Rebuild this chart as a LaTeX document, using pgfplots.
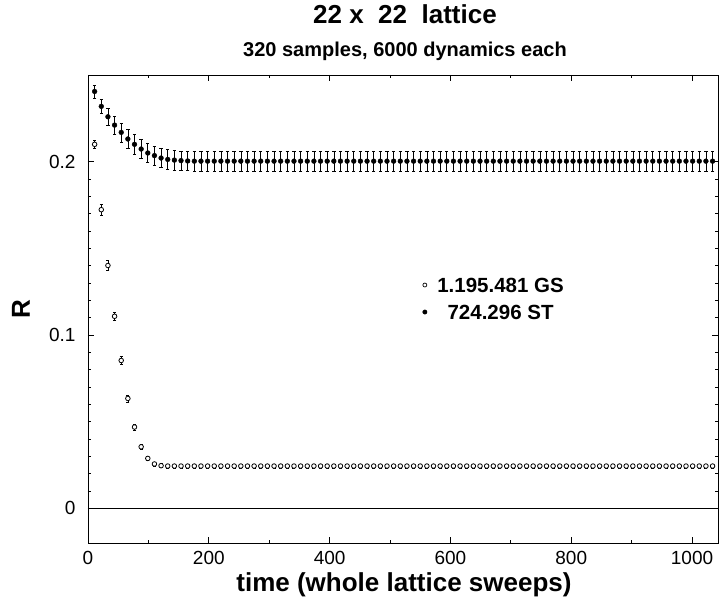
\documentclass[border=0pt]{standalone}
\usepackage{fontspec}
\setmainfont{Liberation Sans}
\usepackage{pgfplots}
\usepackage{pgfplotstable}
\pgfplotsset{compat=1.18}

% ST series (filled circles): time, R, error
\pgfplotstableread{
x y e
11 0.2405 0.0037
22 0.2319 0.0038
33 0.2259 0.0047
44 0.2211 0.0052
55 0.2169 0.0055
66 0.2131 0.0056
77 0.2100 0.0056
88 0.2073 0.0056
99 0.2050 0.0056
110 0.2035 0.0056
121 0.2021 0.0056
132 0.2013 0.0056
143 0.2009 0.0056
154 0.2006 0.0056
165 0.2004 0.0056
176 0.2003 0.0056
187 0.2003 0.0056
198 0.2003 0.0056
209 0.2003 0.0056
220 0.2003 0.0056
231 0.2003 0.0056
242 0.2003 0.0056
253 0.2003 0.0056
264 0.2003 0.0056
275 0.2003 0.0056
286 0.2003 0.0056
297 0.2003 0.0056
308 0.2003 0.0056
319 0.2003 0.0056
330 0.2003 0.0056
341 0.2003 0.0056
352 0.2003 0.0056
363 0.2003 0.0056
374 0.2003 0.0056
385 0.2003 0.0056
396 0.2003 0.0056
407 0.2003 0.0056
418 0.2003 0.0056
429 0.2003 0.0056
440 0.2003 0.0056
451 0.2003 0.0056
462 0.2003 0.0056
473 0.2003 0.0056
484 0.2003 0.0056
495 0.2003 0.0056
506 0.2003 0.0056
517 0.2003 0.0056
528 0.2003 0.0056
539 0.2003 0.0056
550 0.2003 0.0056
561 0.2003 0.0056
572 0.2003 0.0056
583 0.2003 0.0056
594 0.2003 0.0056
605 0.2003 0.0056
616 0.2003 0.0056
627 0.2003 0.0056
638 0.2003 0.0056
649 0.2003 0.0056
660 0.2003 0.0056
671 0.2003 0.0056
682 0.2003 0.0056
693 0.2003 0.0056
704 0.2003 0.0056
715 0.2003 0.0056
726 0.2003 0.0056
737 0.2003 0.0056
748 0.2003 0.0056
759 0.2003 0.0056
770 0.2003 0.0056
781 0.2003 0.0056
792 0.2003 0.0056
803 0.2003 0.0056
814 0.2003 0.0056
825 0.2003 0.0056
836 0.2003 0.0056
847 0.2003 0.0056
858 0.2003 0.0056
869 0.2003 0.0056
880 0.2003 0.0056
891 0.2003 0.0056
902 0.2003 0.0056
913 0.2003 0.0056
924 0.2003 0.0056
935 0.2003 0.0056
946 0.2003 0.0056
957 0.2003 0.0056
968 0.2003 0.0056
979 0.2003 0.0056
990 0.2003 0.0056
1001 0.2003 0.0056
1012 0.2003 0.0056
1023 0.2003 0.0056
1034 0.2003 0.0056
}\stdata

% GS series (open circles): time, R, error
\pgfplotstableread{
x y e
11 0.2100 0.0025
22 0.1723 0.0032
33 0.1401 0.0029
44 0.1108 0.0025
55 0.0853 0.0022
66 0.0634 0.0021
77 0.0469 0.0016
88 0.0355 0.0013
99 0.0288 0.0012
110 0.0256 0.0011
121 0.0246 0.0011
132 0.0244 0.0011
143 0.0244 0.0011
154 0.0244 0.0011
165 0.0244 0.0011
176 0.0244 0.0011
187 0.0244 0.0011
198 0.0244 0.0011
209 0.0244 0.0011
220 0.0244 0.0011
231 0.0244 0.0011
242 0.0244 0.0011
253 0.0244 0.0011
264 0.0244 0.0011
275 0.0244 0.0011
286 0.0244 0.0011
297 0.0244 0.0011
308 0.0244 0.0011
319 0.0244 0.0011
330 0.0244 0.0011
341 0.0244 0.0011
352 0.0244 0.0011
363 0.0244 0.0011
374 0.0244 0.0011
385 0.0244 0.0011
396 0.0244 0.0011
407 0.0244 0.0011
418 0.0244 0.0011
429 0.0244 0.0011
440 0.0244 0.0011
451 0.0244 0.0011
462 0.0244 0.0011
473 0.0244 0.0011
484 0.0244 0.0011
495 0.0244 0.0011
506 0.0244 0.0011
517 0.0244 0.0011
528 0.0244 0.0011
539 0.0244 0.0011
550 0.0244 0.0011
561 0.0244 0.0011
572 0.0244 0.0011
583 0.0244 0.0011
594 0.0244 0.0011
605 0.0244 0.0011
616 0.0244 0.0011
627 0.0244 0.0011
638 0.0244 0.0011
649 0.0244 0.0011
660 0.0244 0.0011
671 0.0244 0.0011
682 0.0244 0.0011
693 0.0244 0.0011
704 0.0244 0.0011
715 0.0244 0.0011
726 0.0244 0.0011
737 0.0244 0.0011
748 0.0244 0.0011
759 0.0244 0.0011
770 0.0244 0.0011
781 0.0244 0.0011
792 0.0244 0.0011
803 0.0244 0.0011
814 0.0244 0.0011
825 0.0244 0.0011
836 0.0244 0.0011
847 0.0244 0.0011
858 0.0244 0.0011
869 0.0244 0.0011
880 0.0244 0.0011
891 0.0244 0.0011
902 0.0244 0.0011
913 0.0244 0.0011
924 0.0244 0.0011
935 0.0244 0.0011
946 0.0244 0.0011
957 0.0244 0.0011
968 0.0244 0.0011
979 0.0244 0.0011
990 0.0244 0.0011
1001 0.0244 0.0011
1012 0.0244 0.0011
1023 0.0244 0.0011
1034 0.0244 0.0011
}\gsdata

\begin{document}
\begin{tikzpicture}
\begin{axis}[
    scale only axis,
    width=630pt, height=468pt,
    xmin=0, xmax=1043,
    ymin=-0.02, ymax=0.25,
    xtick={0,200,400,600,800,1000},
    minor x tick num=1,
    ytick={0,0.1,0.2},
    minor y tick num=9,
    tick align=inside,
    major tick length=6pt,
    minor tick length=3pt,
    axis line style={line width=0.8pt},
    every tick/.style={black, line width=0.8pt},
    tick label style={font=\fontsize{19}{21}\selectfont},
    /pgf/number format/assume math mode=true,
    /pgf/number format/1000 sep={},
    yticklabel style={xshift=-9pt},
    xticklabel style={yshift=-5pt},
    legend style={draw=none, fill=none, inner sep=0pt,
        at={(axis description cs:0.5309,0.5224)}, anchor=west,
        font=\fontsize{20.5}{23}\selectfont\bfseries,
        row sep=11pt,
        nodes={inner sep=1pt, text height=14pt, text depth=0pt}},
]
\addplot[black, line width=0.8pt, forget plot] coordinates {(0,0) (1043,0)};

\addplot[only marks, mark=*, mark size=2.3pt, forget plot,
    mark options={fill=white, draw=black, line width=0.8pt},
    error bars/.cd, y dir=both, y explicit,
    error bar style={black, line width=0.6pt},
    error mark options={rotate=90, mark size=1.5pt, line width=0.6pt}]
    table[x=x, y=y, y error=e]{\gsdata};

\addplot[only marks, mark=*, mark size=2.4pt, forget plot, black,
    error bars/.cd, y dir=both, y explicit,
    error bar style={black, line width=0.6pt},
    error mark options={rotate=90, mark size=1.7pt, line width=0.6pt}]
    table[x=x, y=y, y error=e]{\stdata};

\addlegendimage{only marks, mark=*, mark size=2pt, mark options={fill=white, draw=black, line width=0.7pt}}
\addlegendentry{\makebox[145pt][c]{1.195.481 GS}}
\addlegendimage{only marks, mark=*, mark size=2.2pt, black}
\addlegendentry{\makebox[145pt][c]{724.296 ST}}
\end{axis}
\pgfresetboundingbox
\useasboundingbox (-88pt,-57pt) rectangle (632pt,543pt);
\node[anchor=base, font=\fontsize{26}{30}\selectfont\bfseries] at (317pt,519pt) {22 x\ \ 22\ \ lattice};
\node[anchor=base, font=\fontsize{20}{24}\selectfont\bfseries] at (317pt,486pt) {320 samples, 6000 dynamics each};
\node[anchor=base, font=\fontsize{26}{30}\selectfont\bfseries] at (316pt,-48.5pt) {time (whole lattice sweeps)};
\node[rotate=90, anchor=center, font=\fontsize{26}{30}\selectfont\bfseries] at (-67pt,233.5pt) {R};
\end{tikzpicture}
\end{document}
